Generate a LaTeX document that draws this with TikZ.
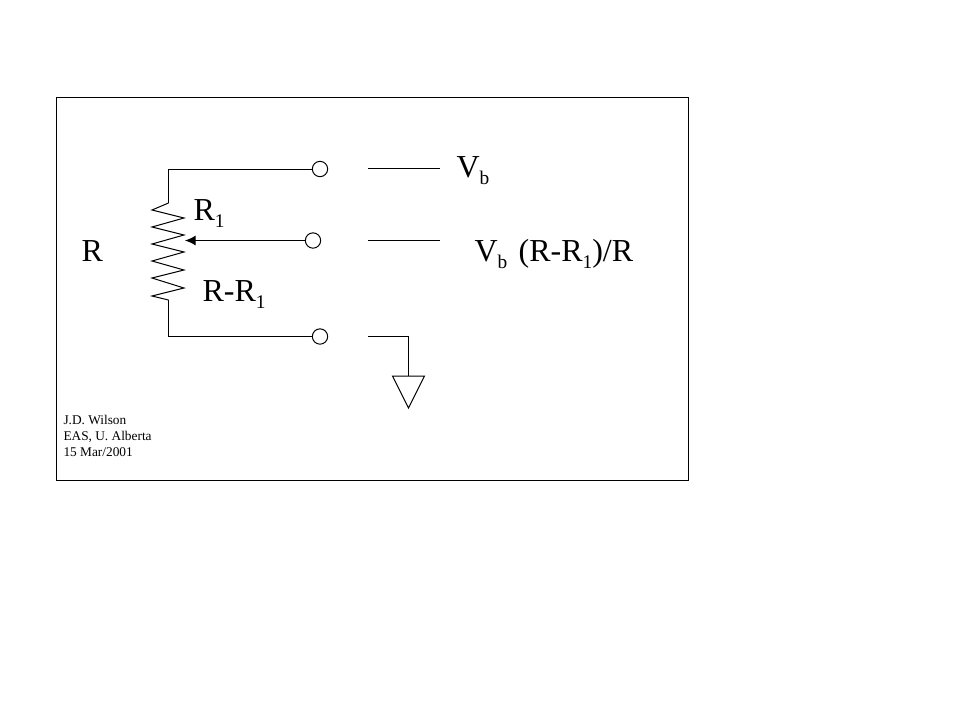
\documentclass[tikz,border=0pt]{standalone}
\usepackage{fontspec}
\usetikzlibrary{arrows.meta}
\setmainfont{Liberation Serif}
\newcommand{\lowsub}[1]{\raisebox{-5.5pt}{\fontsize{14.5}{18}\selectfont #1}}
\begin{document}
\begin{tikzpicture}[x=0.75pt, y=-0.75pt, line width=0.75pt,
		term/.style = {draw, circle, fill=white, inner sep=0pt, minimum size=11.5pt},
		lab/.style = {anchor=base west, inner sep=0pt, font=\fontsize{24}{28}\selectfont},
		small/.style = {anchor=base west, inner sep=0pt, font=\fontsize{10}{12}\selectfont}]
		\useasboundingbox (0,0) rectangle (959,719);
		\fill[white] (0,0) rectangle (959,719);
		\draw (56.5,97.5) rectangle (688.5,480.5);
		% terminals
		\node[term] (top) at (320,169) {};
		\node[term] (wiper) at (313,240.5) {};
		\node[term] (bot) at (320,336.5) {};
		% resistor
		\coordinate (rtop) at (168.5,203);
		\coordinate (rbot) at (168.5,300);
		\coordinate (tip) at (185,240.5);
		\draw (top) -- (168.5,169) -- (rtop);
		\draw (rtop) -- (152,210) -- (184,218) -- (152,227) -- (184,235) -- (152,244) -- (184,252)
			-- (152,261) -- (184,270) -- (152,278) -- (184,288) -- (152,296) -- (rbot);
		\draw (rbot) -- (168.5,336.5) -- (bot);
		\draw[-{Latex[length=8pt,width=7.5pt]}] (wiper) -- (tip);
		% outputs
		\coordinate (a1) at (368,168.5);
		\coordinate (a2) at (440,168.5);
		\coordinate (b1) at (368,240);
		\coordinate (b2) at (440,240);
		\coordinate (c1) at (368,336.5);
		\coordinate (gnd) at (408.5,376);
		\draw (a1) -- (a2);
		\draw (b1) -- (b2);
		\draw (c1) -- (408.5,336.5) -- (gnd);
		\draw (392.5,376) -- (424.5,376) -- (408.5,408) -- cycle;
		% labels
		\node[lab] (vb) at (456,177) {V\lowsub{b}};
		\node[lab] (vout) at (474,261) {V\lowsub{b}\hspace{2.5pt} (R-R\lowsub{1})/R};
		\node[lab] (r) at (81,261) {R};
		\node[lab] (r1) at (193,220) {R\lowsub{1}};
		\node[lab] (r2) at (202,301) {R-R\lowsub{1}};
		\node[small] (s1) at (63,424) {J.D. Wilson};
		\node[small] (s2) at (63,440) {EAS, U. Alberta};
		\node[small] (s3) at (63,456) {15 Mar/2001};
\end{tikzpicture}
\end{document}
